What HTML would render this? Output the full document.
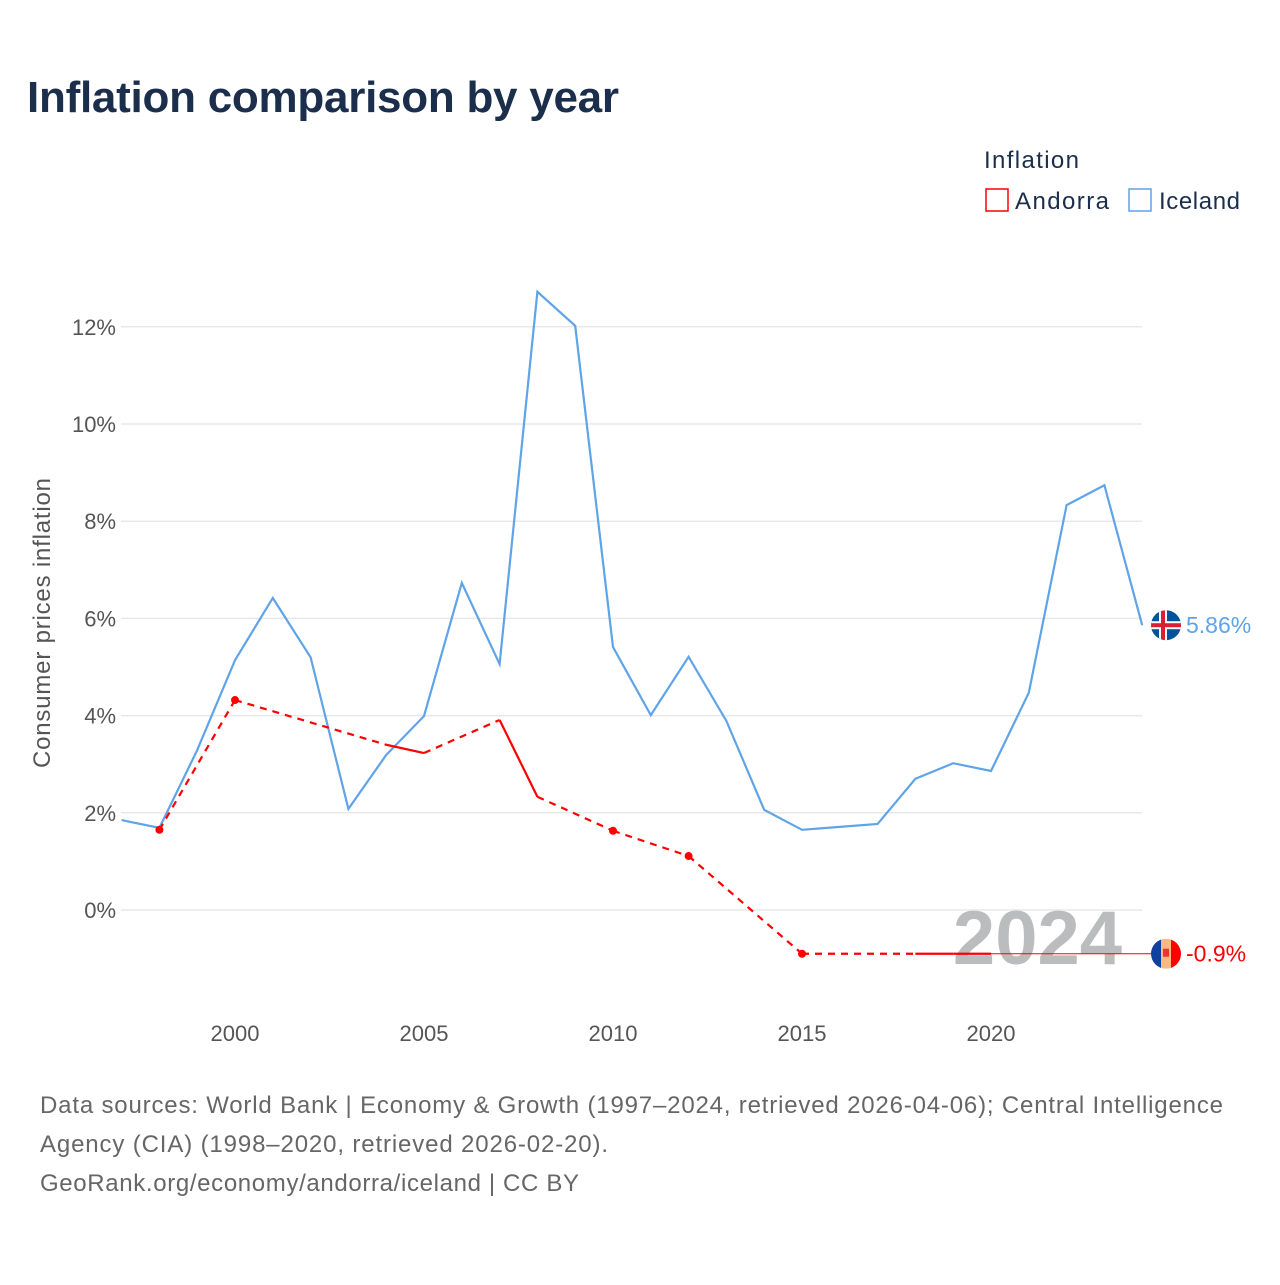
<!DOCTYPE html>
<html><head><meta charset="utf-8"><style>
body{margin:0;background:#fff;font-family:"Liberation Sans",sans-serif;}
svg text{font-family:"Liberation Sans",sans-serif;}
</style></head><body>
<svg id="chart" width="1280" height="1280" viewBox="0 0 1280 1280">
<text x="27" y="112" font-size="44" font-weight="bold" fill="#1b2e4b" textLength="592">Inflation comparison by year</text>
<g>
<text x="984" y="168" font-size="24" fill="#1b2e4b" textLength="95">Inflation</text>
<g><rect x="986" y="189" width="22" height="22" fill="none" stroke="#f00" stroke-width="1.5"/><text x="1015" y="209" font-size="24" fill="#1b2e4b" textLength="94">Andorra</text></g>
<g><rect x="1129" y="189" width="22" height="22" fill="none" stroke="#5fa3e8" stroke-width="1.5"/><text x="1159" y="209" font-size="24" fill="#1b2e4b" textLength="81">Iceland</text></g>
</g>
<g id="grid"></g>
<text x="1122" y="964" font-size="76" font-weight="bold" fill="#bbbcbe" text-anchor="end">2024</text>
<text transform="translate(50,623) rotate(-90)" font-size="24" fill="#555" text-anchor="middle" textLength="290">Consumer prices inflation</text>
<g id="marks"></g>
<text x="40" y="1113" font-size="24" fill="#666" textLength="1183">Data sources: World Bank | Economy &amp; Growth (1997–2024, retrieved 2026-04-06); Central Intelligence</text>
<text x="40" y="1152" font-size="24" fill="#666" textLength="568">Agency (CIA) (1998–2020, retrieved 2026-02-20).</text>
<text x="40" y="1191" font-size="24" fill="#666" textLength="539">GeoRank.org/economy/andorra/iceland | CC BY</text>
</svg>
<script>
const yTicks=[0,2,4,6,8,10,12];
const xTicks=[2000,2005,2010,2015,2020];
const icelandYears=[1997,1998,1999,2000,2001,2002,2003,2004,2005,2006,2007,2008,2009,2010,2011,2012,2013,2014,2015,2016,2017,2018,2019,2020,2021,2022,2023,2024];
const icelandValues=[1.85,1.69,3.29,5.14,6.42,5.2,2.08,3.19,3.99,6.73,5.06,12.72,12.02,5.41,4.01,5.21,3.89,2.06,1.65,1.71,1.77,2.7,3.02,2.86,4.47,8.33,8.74,5.86];
const andorraYears=[1998,2000,2004,2005,2007,2008,2010,2012,2015,2018,2019,2020];
const andorraValues=[1.65,4.32,3.4,3.23,3.91,2.33,1.63,1.11,-0.9,-0.9,-0.9,-0.9];
const NS="http://www.w3.org/2000/svg";
const X=y=>121.6+(y-1997)*37.8;
const Y=v=>910-v*48.6;
function mk(t,a,p){const e=document.createElementNS(NS,t);for(const k in a)e.setAttribute(k,a[k]);p.appendChild(e);return e;}
const grid=document.getElementById('grid'),marks=document.getElementById('marks');
yTicks.forEach(v=>{
 const l=mk('line',{x1:121,x2:1142,y1:Y(v),y2:Y(v),stroke:'#e8e8e8','stroke-width':1.5},grid);
 
 
 const t=mk('text',{x:116,y:Y(v)+8,'font-size':22,fill:'#555','text-anchor':'end'},grid);
 t.textContent=v+'%';
 
 
});
xTicks.forEach(v=>{
 const t=mk('text',{x:X(v),y:1041,'font-size':22,fill:'#555','text-anchor':'middle'},grid);
 t.textContent=v;
 
 
});
const ip=mk('polyline',{points:icelandYears.map((y,i)=>X(y)+','+Y(icelandValues[i])).join(' '),fill:'none',stroke:'#5fa3e8','stroke-width':2.2},marks);


const li=andorraYears.length-1;
const ref=mk('line',{x1:X(andorraYears[li]),y1:Y(andorraValues[li]),x2:1160,y2:Y(andorraValues[li]),stroke:'#f00','stroke-width':1},marks);


for(let i=0;i<li;i++){
 const gap=andorraYears[i+1]-andorraYears[i]>1;
 const s=mk('line',{x1:X(andorraYears[i]),y1:Y(andorraValues[i]),x2:X(andorraYears[i+1]),y2:Y(andorraValues[i+1]),stroke:'#f00','stroke-width':2.2},marks);
 if(gap)s.setAttribute('stroke-dasharray','7,6');
 
 
}
andorraYears.forEach((y,i)=>{
 const prev=i>0&&y-andorraYears[i-1]===1, next=i<li&&andorraYears[i+1]-y===1;
 if(prev||next)return;
 const c=mk('circle',{cx:X(y),cy:Y(andorraValues[i]),r:4,fill:'#f00'},marks);
 
 
});
function endLabel(v,color,name,flag){
 const g=mk('g',{},marks);
 
 
 const cy=Y(v),cx=1166;
 g.innerHTML=flag(cx,cy);
 const t=mk('text',{x:1186,y:cy+8,'font-size':23,fill:color},g);
 t.textContent=(Math.round(v*100)/100)+'%';
}
endLabel(icelandValues[icelandValues.length-1],'#5fa3e8','iceland-end-label',(x,y)=>`<clipPath id="ci"><circle cx="${x}" cy="${y}" r="15"/></clipPath><g clip-path="url(#ci)"><rect x="${x-15}" y="${y-15}" width="30" height="30" fill="#02529c"/><rect x="${x-15}" y="${y-4}" width="30" height="8" fill="#fff"/><rect x="${x-7}" y="${y-15}" width="8" height="30" fill="#fff"/><rect x="${x-15}" y="${y-2}" width="30" height="4" fill="#dc1e35"/><rect x="${x-5}" y="${y-15}" width="4" height="30" fill="#dc1e35"/></g>`);
endLabel(andorraValues[li],'#f00','andorra-end-label',(x,y)=>`<clipPath id="ca"><circle cx="${x}" cy="${y}" r="15"/></clipPath><g clip-path="url(#ca)"><rect x="${x-15}" y="${y-15}" width="10" height="30" fill="#1040a0"/><rect x="${x-5}" y="${y-15}" width="10" height="30" fill="#fdb980"/><rect x="${x+5}" y="${y-15}" width="10" height="30" fill="#f00"/><rect x="${x-3}" y="${y-5}" width="6" height="8" fill="#e33"/></g>`);
</script>
</body></html>
